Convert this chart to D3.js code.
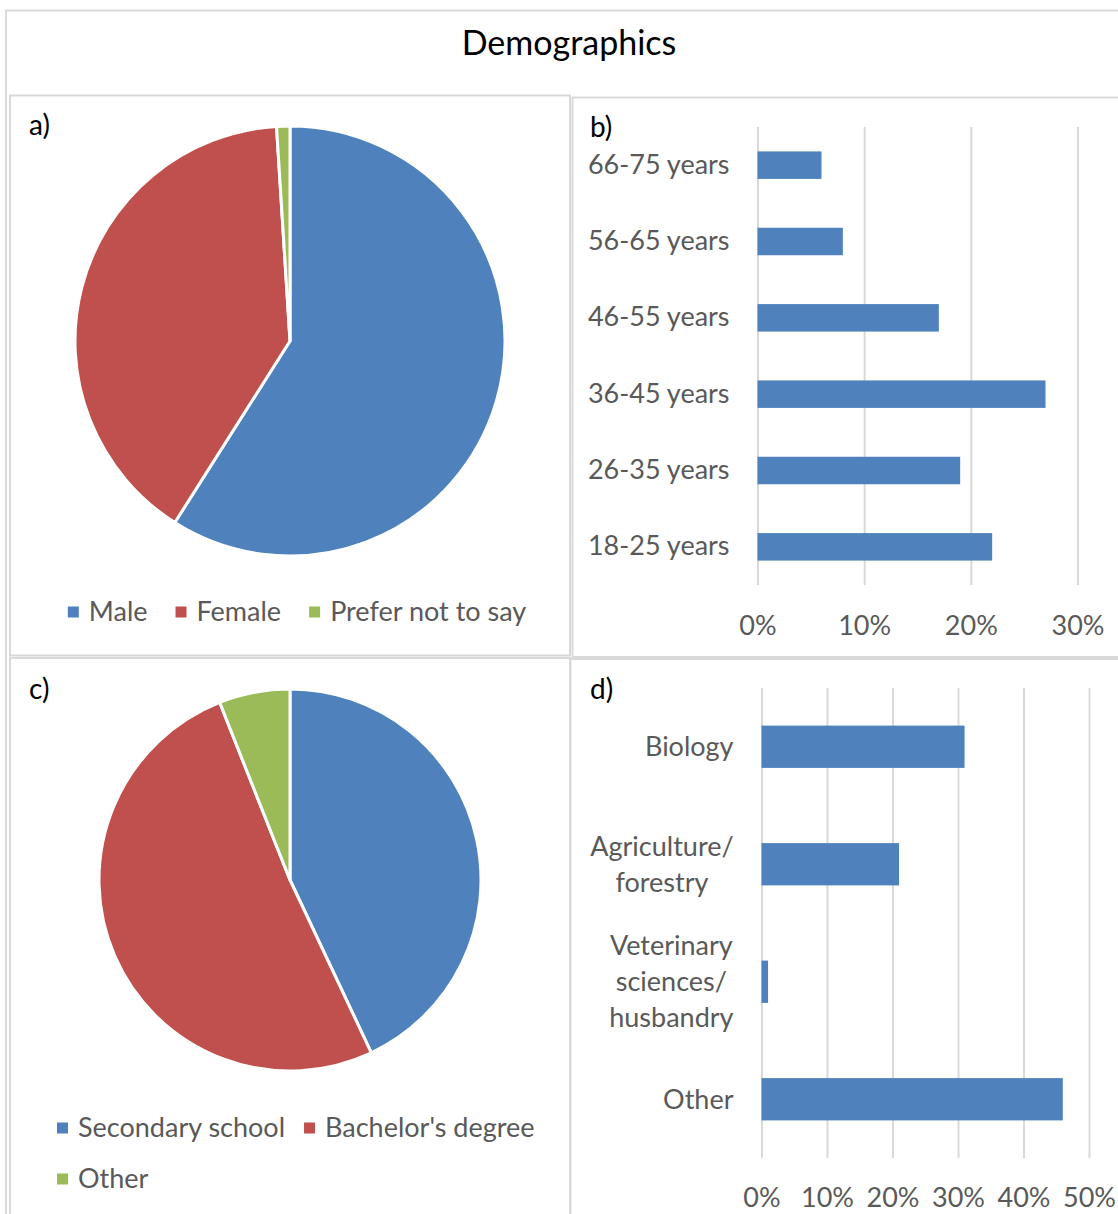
<!DOCTYPE html>
<html>
<head>
<meta charset="utf-8">
<script src="https://cdn.jsdelivr.net/npm/d3@7"></script>
<style>
  html, body { margin: 0; padding: 0; background: #fff; }
  svg { display: block; }
  text { font-family: Lato, "Open Sans", sans-serif; }
</style>
</head>
<body>
<svg id="chart" width="1118" height="1214"></svg>
<script>
// ---------------- data ----------------
const chartTitle = "Demographics";

const genderLabels = ["Male", "Female", "Prefer not to say"];
const genderValues = [59, 40, 1];

const ageCategories = ["66-75 years", "56-65 years", "46-55 years", "36-45 years", "26-35 years", "18-25 years"];
const ageValues = [6, 8, 17, 27, 19, 22];
const ageTicks = [0, 10, 20, 30];

const educationLabels = ["Secondary school", "Bachelor's degree", "Other"];
const educationValues = [43, 51, 6];

const fieldCategories = ["Biology", "Agriculture/\nforestry", "Veterinary\nsciences/\nhusbandry", "Other"];
const fieldValues = [31, 21, 1, 46];
const fieldTicks = [0, 10, 20, 30, 40, 50];

const pieColors = ["#4F81BD", "#C0504D", "#9BBB59"];
const barColor = "#4F81BD";
const textGrey = "#595959";
const lineGrey = "#D9D9D9";
const FS = 27;

const svg = d3.select("#chart");

// ---------------- frames ----------------
const frames = [
  {x: 6, y: 10.5, w: 1130, h: 1230},
  {x: 10, y: 95.5, w: 560, h: 560},
  {x: 572.5, y: 97.5, w: 560, h: 559.5},
  {x: 10, y: 658, w: 560, h: 600},
  {x: 570.5, y: 659, w: 560, h: 600}
];
svg.selectAll("rect.frame").data(frames).join("rect")
  .attr("class", "frame")
  .attr("x", d => d.x).attr("y", d => d.y)
  .attr("width", d => d.w).attr("height", d => d.h)
  .attr("fill", "none").attr("stroke", lineGrey).attr("stroke-width", 2);

// title
svg.append("text").attr("x", 569).attr("y", 55)
  .attr("text-anchor", "middle").attr("font-size", 34).attr("fill", "#000")
  .text(chartTitle);

// panel letters
const panelLetters = [
  {t: "a)", x: 29, y: 135},
  {t: "b)", x: 590, y: 137},
  {t: "c)", x: 29, y: 699},
  {t: "d)", x: 590, y: 699}
];
svg.selectAll("text.letter").data(panelLetters).join("text")
  .attr("class", "letter")
  .attr("x", d => d.x).attr("y", d => d.y)
  .attr("font-size", 28).attr("fill", "#000")
  .text(d => d.t);

// ---------------- pies ----------------
function drawPie(values, cx, cy, r) {
  const pie = d3.pie().sort(null).value(d => d);
  const arc = d3.arc().innerRadius(0).outerRadius(r);
  const g = svg.append("g").attr("transform", `translate(${cx},${cy})`);
  g.selectAll("path").data(pie(values)).join("path")
    .attr("d", arc)
    .attr("fill", (d, i) => pieColors[i])
    .attr("stroke", "#fff").attr("stroke-width", 3)
    .attr("stroke-linejoin", "round");
}
drawPie(genderValues, 290, 341, 215);
drawPie(educationValues, 290, 880, 191);

// ---------------- legends ----------------
function drawLegendRow(items, colorIdx, startX, cy, centerX, gapItems) {
  const g = svg.append("g");
  const sq = 11, gapSqText = 10;
  let x = 0;
  const placed = [];
  items.forEach((label, k) => {
    const t = g.append("text").attr("font-size", FS).attr("fill", textGrey).text(label);
    const w = t.node().getComputedTextLength();
    placed.push({t, x, w, ci: colorIdx[k]});
    x += sq + gapSqText + w + gapItems;
  });
  const total = x - gapItems;
  const x0 = centerX != null ? centerX - total / 2 : startX;
  placed.forEach(p => {
    g.append("rect").attr("x", x0 + p.x).attr("y", cy - sq / 2).attr("width", sq).attr("height", sq)
      .attr("fill", pieColors[p.ci]);
    p.t.attr("x", x0 + p.x + sq + gapSqText).attr("y", cy).attr("dy", "0.35em");
  });
}
drawLegendRow(genderLabels, [0, 1, 2], null, 612, 297, 28);
drawLegendRow(educationLabels.slice(0, 2), [0, 1], 57, 1128, null, 19);
drawLegendRow(educationLabels.slice(2), [2], 57, 1179, null, 19);

// ---------------- bar chart b ----------------
{
  const x = d3.scaleLinear().domain([0, 30]).range([757.5, 1077.5]);
  const y = d3.scaleBand().domain(ageCategories).range([127, 585]).paddingInner(0.64).paddingOuter(0.32);
  const grid = svg.append("g").attr("transform", "translate(0,585)")
    .call(d3.axisBottom(x).tickValues(ageTicks).tickFormat(d => d + "%")
      .tickSizeInner(-(585 - 127)).tickSizeOuter(0).tickPadding(31));
  grid.select(".domain").remove();
  grid.selectAll(".tick line").attr("stroke", lineGrey).attr("stroke-width", 2);
  grid.selectAll(".tick text").attr("font-size", FS).attr("fill", textGrey).attr("font-family", null);

  svg.append("g").selectAll("rect").data(ageValues).join("rect")
    .attr("x", x(0)).attr("y", (d, i) => y(ageCategories[i]))
    .attr("width", d => x(d) - x(0)).attr("height", y.bandwidth())
    .attr("fill", barColor);

  const ya = svg.append("g").attr("transform", `translate(${x(0)},0)`)
    .call(d3.axisLeft(y).tickSize(0).tickPadding(28));
  ya.select(".domain").remove();
  ya.selectAll(".tick text").attr("font-size", FS).attr("fill", textGrey).attr("font-family", null);
}

// ---------------- bar chart d ----------------
{
  const x = d3.scaleLinear().domain([0, 50]).range([761.5, 1089]);
  const y = d3.scaleBand().domain(fieldCategories).range([688, 1158]).paddingInner(0.64).paddingOuter(0.32);
  const grid = svg.append("g").attr("transform", "translate(0,1158)")
    .call(d3.axisBottom(x).tickValues(fieldTicks).tickFormat(d => d + "%")
      .tickSizeInner(-(1158 - 688)).tickSizeOuter(0).tickPadding(30));
  grid.select(".domain").remove();
  grid.selectAll(".tick line").attr("stroke", lineGrey).attr("stroke-width", 2);
  grid.selectAll(".tick text").attr("font-size", FS).attr("fill", textGrey).attr("font-family", null);

  svg.append("g").selectAll("rect").data(fieldValues).join("rect")
    .attr("x", x(0)).attr("y", (d, i) => y(fieldCategories[i]))
    .attr("width", d => x(d) - x(0)).attr("height", y.bandwidth())
    .attr("fill", barColor);

  const ya = svg.append("g").attr("transform", `translate(${x(0)},0)`)
    .call(d3.axisLeft(y).tickSize(0).tickPadding(28));
  ya.select(".domain").remove();
  const lineH = 36;
  ya.selectAll(".tick text").each(function(d) {
    const t = d3.select(this);
    const lines = d.split("\n");
    t.text(null).attr("font-size", FS).attr("fill", textGrey).attr("font-family", null)
      .attr("dy", null).attr("text-anchor", "middle");
    const spans = lines.map((ln, k) => t.append("tspan").text(ln));
    const maxW = d3.max(spans, s => s.node().getComputedTextLength());
    const cxLine = -28 - maxW / 2;
    spans.forEach((s, k) => {
      s.attr("x", cxLine).attr("y", (k - (lines.length - 1) / 2) * lineH).attr("dy", "0.35em");
    });
  });
}
</script>
</body>
</html>
